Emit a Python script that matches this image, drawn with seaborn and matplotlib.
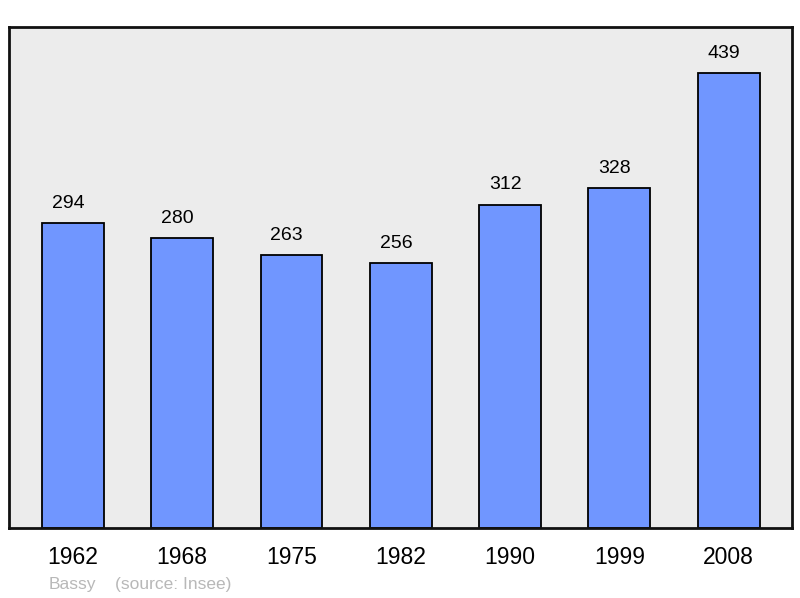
import matplotlib
matplotlib.use("Agg")
import matplotlib.pyplot as plt
import seaborn as sns
import pandas as pd

# ==========================================
# DATA
# ==========================================

years = ["1962", "1968", "1975", "1982", "1990", "1999", "2008"]
population = [294, 280, 263, 256, 312, 328, 439]
commune = "Bassy"
source = "(source: Insee)"

df = pd.DataFrame({"Year": years, "Population": population})

# ==========================================
# PLOT
# ==========================================

sns.set_style("white")
plt.rcParams["font.family"] = ["Liberation Sans", "DejaVu Sans"]
plt.rcParams["text.color"] = "black"
plt.rcParams["xtick.color"] = "black"

fig = plt.figure(figsize=(8, 5.98), dpi=100)
ax = fig.add_axes([0.01125, 0.117, 0.97875, 0.838])
ax.set_facecolor("#ececec")

sns.barplot(
    data=df,
    x="Year",
    y="Population",
    color="#7096ff",
    saturation=1,
    width=0.567,
    edgecolor="black",
    linewidth=1.3,
    ax=ax
)

# value labels, sitting slightly left of the bar centre like the original
for bar, val in zip(ax.patches, population):
    ax.annotate(
        str(val),
        (bar.get_x() + bar.get_width() / 2, bar.get_height()),
        xytext=(-3.5, 8),
        textcoords="offset points",
        ha="center",
        va="bottom",
        fontsize=14,
        color="black"
    )

ax.set_xlim(-0.585, 6.58)
ax.set_ylim(0, 483.4)
ax.set_yticks([])
ax.set_xlabel("")
ax.set_ylabel("")
ax.tick_params(axis="x", length=0, pad=13, labelsize=16.5, labelcolor="black")

for s in ax.spines.values():
    s.set_visible(True)
    s.set_linewidth(2)
    s.set_color("#111111")

fig.text(49 / 800, 1 - 584 / 598, commune,
         fontsize=12.5, color="#b8b8b8", va="center", ha="left")
fig.text(115 / 800, 1 - 584 / 598, source,
         fontsize=12.5, color="#b8b8b8", va="center", ha="left")

fig.savefig("out.png", dpi=100, facecolor="white")
